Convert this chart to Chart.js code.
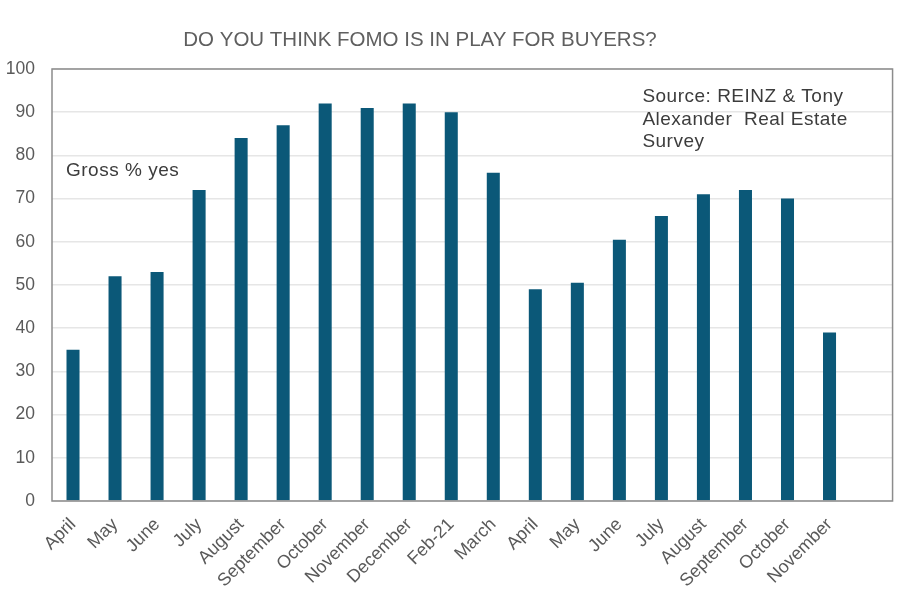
<!DOCTYPE html>
<html>
<head>
<meta charset="utf-8">
<script src="https://cdn.jsdelivr.net/npm/chart.js@4.4.1/dist/chart.umd.min.js"></script>
<style>
  html, body { margin: 0; padding: 0; background: #fff; }
  #wrap { width: 900px; height: 600px; }
</style>
</head>
<body>
<div id="wrap"><canvas id="chart" width="900" height="600"></canvas></div>
<script>
// categories (last slot is empty in the original)
const months = ['April', 'May', 'June', 'July', 'August', 'September', 'October', 'November', 'December', 'Feb-21',
                'March', 'April', 'May', 'June', 'July', 'August', 'September', 'October', 'November', ''];
// gross % yes
const fomoYes = [35, 52, 53, 72, 84, 87, 92, 91, 92, 90,
                 76, 49, 50.5, 60.5, 66, 71, 72, 70, 39, null];
const yTicks = [0, 10, 20, 30, 40, 50, 60, 70, 80, 90, 100];

const chartTitle = 'DO YOU THINK FOMO IS IN PLAY FOR BUYERS?';
const seriesNote = 'Gross % yes';
const sourceNote = ['Source: REINZ & Tony', 'Alexander  Real Estate', 'Survey'];

const FONT = '"Liberation Sans", Arial, sans-serif';

// title, frame round the plot area, and the two notes
const notesPlugin = {
  id: 'notes',
  afterDraw(c) {
    const ctx = c.ctx;
    const a = c.chartArea;
    const y = c.scales.y;
    const x = c.scales.x;
    ctx.save();
    ctx.strokeStyle = '#8c8c8c';
    ctx.lineWidth = 1.5;
    ctx.strokeRect(a.left, a.top, a.right - a.left, a.bottom - a.top);

    ctx.fillStyle = '#5f5f5f';
    ctx.font = '20.5px ' + FONT;
    ctx.textAlign = 'center';
    ctx.textBaseline = 'middle';
    ctx.fillText(chartTitle, 420, 40);

    ctx.fillStyle = '#3c3c3c';
    ctx.font = '19px ' + FONT;
    ctx.letterSpacing = '0.5px';
    ctx.textAlign = 'left';
    ctx.fillText(seriesNote, x.getPixelForValue(0) - 7, y.getPixelForValue(76.5));

    const sx = x.getPixelForValue(13) + 23;
    sourceNote.forEach((t, i) => {
      ctx.fillText(t, sx, y.getPixelForValue(93.5) + i * 22.5);
    });
    ctx.restore();
  }
};

const ctx = document.getElementById('chart').getContext('2d');
new Chart(ctx, {
  type: 'bar',
  data: {
    labels: months,
    datasets: [{
      label: seriesNote,
      data: fomoYes,
      backgroundColor: '#0b5878',
      barPercentage: 0.31,
      categoryPercentage: 1.0
    }]
  },
  options: {
    responsive: false,
    animation: false,
    layout: { padding: { left: 0, right: 7, top: 69, bottom: 0 } },
    plugins: {
      legend: { display: false },
      tooltip: { enabled: false },
      title: { display: false }
    },
    scales: {
      x: {
        grid: { display: false, drawTicks: false },
        border: { display: false },
        ticks: {
          color: '#5a5a5a',
          font: { family: FONT, size: 18 },
          minRotation: 45,
          maxRotation: 45,
          autoSkip: false,
          padding: 13
        },
        afterFit(s) { s.height = 99; }
      },
      y: {
        min: 0,
        max: 100,
        afterBuildTicks(s) { s.ticks = yTicks.map(v => ({ value: v })); },
        grid: { color: '#e6e6e6', lineWidth: 1.5, drawTicks: false },
        border: { display: false },
        ticks: {
          color: '#5a5a5a',
          font: { family: FONT, size: 17.5 },
          padding: 17
        },
        afterFit(s) { s.width = 52; }
      }
    }
  },
  plugins: [notesPlugin]
});
</script>
</body>
</html>
